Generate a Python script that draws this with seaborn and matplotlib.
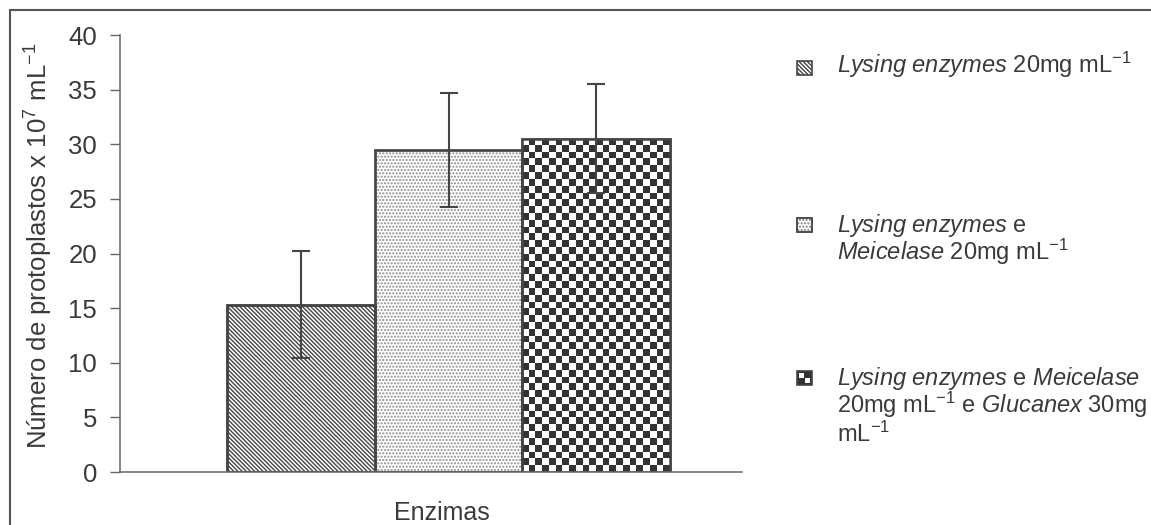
import numpy as np
import matplotlib
matplotlib.use("Agg")
import matplotlib.pyplot as plt
from matplotlib.patches import Rectangle
from matplotlib.colors import ListedColormap
from matplotlib.lines import Line2D
import seaborn as sns

# dados
enzimas = ["Lysing", "Lysing + Meicelase", "Lysing + Meicelase + Glucanex"]
protoplastos = [15.3, 29.5, 30.5]
erro = [4.9, 5.2, 5.0]
y_ticks = [0, 5, 10, 15, 20, 25, 30, 35, 40]
legenda = [
    [r"$\mathit{Lysing\ enzymes}$ 20mg mL$^{-1}$"],
    [r"$\mathit{Lysing\ enzymes}$ e", r"$\mathit{Meicelase}$ 20mg mL$^{-1}$"],
    [r"$\mathit{Lysing\ enzymes}$ e $\mathit{Meicelase}$",
     r"20mg mL$^{-1}$ e $\mathit{Glucanex}$ 30mg",
     r"mL$^{-1}$"],
]

sns.set_style("ticks")
plt.rcParams['font.family'] = ['Liberation Sans', 'DejaVu Sans']
plt.rcParams['mathtext.fontset'] = 'custom'
plt.rcParams['mathtext.rm'] = 'Liberation Sans'
plt.rcParams['mathtext.it'] = 'Liberation Sans:italic'
plt.rcParams['hatch.linewidth'] = 1.0

escuro = "#454545"
texto = "#3a3a3a"
W, H = 1151, 525
diag = "\\" * 8
pontos = "." * 5

fig = plt.figure(figsize=(11.51, 5.25), dpi=100)
ax = fig.add_axes([120 / W, 53 / H, 622 / W, 437 / H])

sns.barplot(x=enzimas, y=protoplastos, ax=ax, width=1.0, color="white",
            edgecolor=escuro, linewidth=1.8, errorbar=None)

ax.set_xlim(-1.224, 2.987)
ax.set_ylim(0, 40)
ax.set_yticks(y_ticks)
ax.set_xticks([])
ax.set_xlabel("")
ax.set_ylabel("")
sns.despine(ax=ax)
for s in ["left", "bottom"]:
    ax.spines[s].set_color("#666666")
    ax.spines[s].set_linewidth(1.1)
ax.tick_params(axis="y", direction="out", length=7.5, width=1.0, color="#666666",
               pad=9, labelsize=18.5, labelcolor=texto)

barras = ax.patches[:3]
barras[0].set_hatch(diag)
barras[1].set_edgecolor("#8c8c8c")
barras[1].set_hatch(pontos)

# xadrez dentro da terceira barra
b3 = barras[2]
x0, w, h = b3.get_x(), b3.get_width(), b3.get_height()
p0 = ax.transData.transform((x0, 0))
p1 = ax.transData.transform((x0 + w, h))
ncol = int(round(abs(p1[0] - p0[0]) / 6.8))
nrow = int(round(abs(p1[1] - p0[1]) / 6.8))
xadrez = np.add.outer(np.arange(nrow), np.arange(ncol)) % 2
img = ax.imshow(xadrez, cmap=ListedColormap(["white", "#333333"]),
                extent=(x0, x0 + w, 0, h), aspect="auto",
                interpolation="nearest", zorder=b3.get_zorder() + 0.1)
img.set_clip_path(b3)
ax.set_xlim(-1.224, 2.987)
ax.set_ylim(0, 40)

# contornos das barras
for b in barras:
    ax.add_patch(Rectangle((b.get_x(), 0), b.get_width(), b.get_height(),
                           fill=False, edgecolor=escuro, linewidth=1.8,
                           zorder=b3.get_zorder() + 0.2))

ax.errorbar(x=np.arange(len(enzimas)), y=protoplastos, yerr=erro, fmt="none",
            ecolor=escuro, elinewidth=1.5, capsize=6.5, capthick=1.5, zorder=5)

fig.text(39 / W, 1 - 246 / H, r"Número de protoplastos x 10$^{7}$ mL$^{-1}$",
         rotation=90, ha="center", va="center", fontsize=18.5, color=texto)
fig.text(442 / W, 1 - 520 / H, "Enzimas", ha="center", va="baseline",
         fontsize=18, color=texto)

# legenda manual
centros = [68, 225, 378]
baselines = [[73], [232, 260], [385, 413, 442]]
for i, (c, linhas, bases) in enumerate(zip(centros, legenda, baselines)):
    mk = Rectangle((797 / W, 1 - (c + 7) / H), 15 / W, 14 / H,
                   transform=fig.transFigure, facecolor="white",
                   edgecolor=escuro, linewidth=1.2)
    if i == 0:
        mk.set_hatch(diag)
    elif i == 1:
        mk.set_edgecolor("#7a7a7a")
        mk.set_hatch(pontos)
    else:
        mk.set_facecolor("#333333")
    fig.patches.append(mk)
    if i == 1:
        fig.patches.append(Rectangle((797 / W, 1 - (c + 7) / H), 15 / W, 14 / H,
                                     transform=fig.transFigure, fill=False,
                                     edgecolor=escuro, linewidth=1.2))
    if i == 2:
        for dx, dy in [(5.6, 0), (0, 5.2)]:
            fig.patches.append(Rectangle(((799 + dx) / W, 1 - (c + 5 - dy) / H),
                                         5 / W, 5 / H, transform=fig.transFigure,
                                         facecolor="white", edgecolor="none"))
    for linha, yb in zip(linhas, bases):
        fig.text(837 / W, 1 - yb / H, linha, ha="left", va="baseline",
                 fontsize=17, color=texto)

# moldura
fig.add_artist(Line2D([10 / W, 1.0], [1 - 10 / H, 1 - 10 / H],
                      transform=fig.transFigure, color="#555555", linewidth=1.5))
fig.add_artist(Line2D([10 / W, 10 / W], [0, 1 - 10 / H],
                      transform=fig.transFigure, color="#555555", linewidth=1.5))

fig.savefig("out.png", dpi=100, facecolor="white")
